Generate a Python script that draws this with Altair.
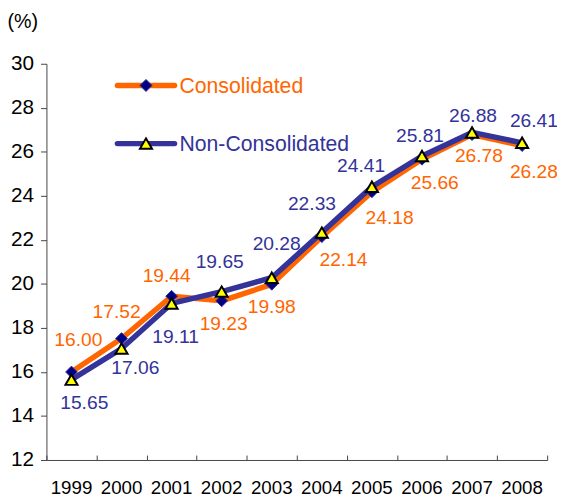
import altair as alt
import pandas as pd

# ---- data ----
years = ["1999", "2000", "2001", "2002", "2003", "2004", "2005", "2006", "2007", "2008"]
consolidated = [16.00, 17.52, 19.44, 19.23, 19.98, 22.14, 24.18, 25.66, 26.78, 26.28]
non_consolidated = [15.65, 17.06, 19.11, 19.65, 20.28, 22.33, 24.41, 25.81, 26.88, 26.41]
series_names = ["Consolidated", "Non-Consolidated"]
y_ticks = [12, 14, 16, 18, 20, 22, 24, 26, 28, 30]

# ---- label placement (pixel nudges relative to each point) ----
cons_dx = [7, -5, -5, 2, 0, 22, 18, 13, 7, 12]
cons_dy = [-32, -27, -20, 24, 23, 24, 27, 24, 22, 27]
non_dx = [13, 14, 4, -2, 5, -10, -11, -2, 1, 12]
non_dy = [24, 20, 34, -30, -34, -29, -21, -20, -17, -22]

ORANGE = "#FF6600"
NAVY = "#333399"
DARK_NAVY = "#000080"
YELLOW = "#FFFF00"
AXIS = "#444444"
FONT = "Liberation Sans"
W, H = 508, 402

n = len(years)
df = pd.DataFrame({
    "year": years * 2,
    "value": consolidated + non_consolidated,
    "series": [series_names[0]] * n + [series_names[1]] * n,
})
df["label"] = df["value"].map(lambda v: f"{v:.2f}")
leg = pd.DataFrame({"series": series_names})

xscale = alt.Scale(type="band", domain=years, paddingInner=0, paddingOuter=0)
yscale = alt.Scale(domain=[12, 30], nice=False, zero=False)

y_enc = alt.Y(
    "value:Q", scale=yscale,
    axis=alt.Axis(values=y_ticks, title="(%)", titleAngle=0, titleAlign="left",
                  titleBaseline="middle", titleX=-40, titleY=-43, titleFontSize=20,
                  titleFontWeight="normal", titleColor="black", titleFont=FONT,
                  labelFontSize=21, labelColor="black", labelFont=FONT, labelPadding=7,
                  tickSize=6, tickColor=AXIS, domainColor=AXIS, grid=False),
)


def xe(axis=None):
    return alt.X("year:O", scale=xscale, bandPosition=0.5, axis=axis)


bottom_axis = alt.Axis(orient="bottom", ticks=False, labelPadding=19, labelFontSize=19,
                       labelAngle=0, labelColor="black", labelFont=FONT,
                       domainColor=AXIS, title=None, grid=False)
tick_axis = alt.Axis(orient="top", offset=-H, labels=False, domain=False, ticks=True,
                     tickBand="extent", tickSize=5, tickColor=AXIS, title=None, grid=False)

cons_f = alt.datum.series == series_names[0]
non_f = alt.datum.series == series_names[1]

orange_line = alt.Chart(df).transform_filter(cons_f).mark_line(
    color=ORANGE, strokeWidth=5.5, strokeJoin="round").encode(x=xe(tick_axis), y=y_enc)
diamonds = alt.Chart(df).transform_filter(cons_f).mark_point(
    shape="diamond", filled=True, fill=DARK_NAVY, stroke=NAVY, strokeWidth=1,
    size=140, opacity=1).encode(x=xe(), y=y_enc)
navy_line = alt.Chart(df).transform_filter(non_f).mark_line(
    color=NAVY, strokeWidth=5.5, strokeJoin="round").encode(x=xe(bottom_axis), y=y_enc)
triangles = alt.Chart(df).transform_filter(non_f).mark_point(
    shape="triangle-up", filled=True, fill=YELLOW, stroke="black", strokeWidth=2,
    size=150, opacity=1).encode(x=xe(), y=y_enc)

layers = [orange_line, diamonds, navy_line, triangles]

for name, color, dxs, dys in [(series_names[0], ORANGE, cons_dx, cons_dy),
                              (series_names[1], NAVY, non_dx, non_dy)]:
    for yr, dx, dy in zip(years, dxs, dys):
        layers.append(
            alt.Chart(df).transform_filter(
                (alt.datum.series == name) & (alt.datum.year == yr)
            ).mark_text(dx=dx, dy=dy, fontSize=19.5, font=FONT, color=color,
                        align="center", baseline="middle").encode(
                x=xe(), y=y_enc, text="label:N")
        )

# ---- legend drawn by hand ----
legend_style = [(ORANGE, "diamond", DARK_NAVY, NAVY, 1),
                (NAVY, "triangle-up", YELLOW, "black", 2)]
for i, (name, (lc, shp, fc, sc, sw)) in enumerate(zip(series_names, legend_style)):
    ly = 22 + 59 * i
    f = alt.datum.series == name
    layers.append(alt.Chart(leg).transform_filter(f).mark_rule(
        color=lc, strokeWidth=5.5, strokeCap="round").encode(
        x=alt.value(72), x2=alt.value(130), y=alt.value(ly)))
    layers.append(alt.Chart(leg).transform_filter(f).mark_point(
        shape=shp, filled=True, fill=fc, stroke=sc, strokeWidth=sw,
        size=150, opacity=1).encode(x=alt.value(101), y=alt.value(ly)))
    layers.append(alt.Chart(leg).transform_filter(f).mark_text(
        align="left", baseline="middle", fontSize=21.5, font=FONT, color=lc).encode(
        x=alt.value(135), y=alt.value(ly + 2), text="series:N"))

chart = alt.layer(*layers).resolve_axis(x="independent").resolve_scale(
    x="shared", y="shared"
).properties(
    width=W, height=H,
    autosize=alt.AutoSizeParams(type="none"),
    padding={"left": 39, "top": 53, "right": 10, "bottom": 36},
    background="white",
).configure_view(stroke=None)

chart.save("out.html", embed_options={"renderer": "svg", "actions": False})
